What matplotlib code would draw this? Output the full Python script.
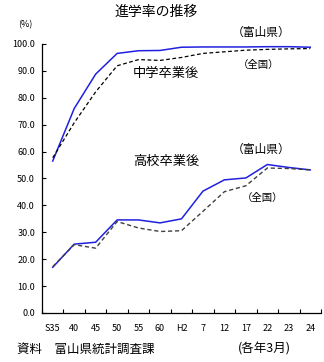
import matplotlib
matplotlib.use("Agg")
import matplotlib.pyplot as plt
import numpy as np

plt.rcParams['font.family'] = ['Noto Sans CJK JP', 'DejaVu Sans']

years = ['S35', '40', '45', '50', '55', '60', 'H2', '7', '12', '17', '22', '23', '24']
# junior high -> next school
jh_toyama = [56.5, 76.0, 88.8, 96.5, 97.5, 97.6, 98.8, 98.9, 98.9, 98.9, 99.0, 99.0, 98.8]
jh_japan = [57.7, 70.7, 82.2, 91.9, 94.2, 93.9, 95.0, 96.5, 97.1, 97.7, 98.0, 98.2, 98.3]
# high school -> university etc
hs_toyama = [17.0, 25.6, 26.3, 34.6, 34.6, 33.5, 35.0, 45.3, 49.5, 50.2, 55.2, 54.1, 53.2]
hs_japan = [17.2, 25.4, 24.1, 34.0, 31.6, 30.3, 30.6, 37.8, 45.1, 47.3, 53.9, 53.7, 53.2]

fig = plt.figure(figsize=(3.24, 3.62), dpi=100)
ax = fig.add_axes([42/324, 1-313/362, 279/324, 269/362])

x = np.arange(len(years))
ax.plot(x, jh_toyama, color='#2020e0', lw=1.1)
ax.plot(x, jh_japan, color='black', lw=0.9, ls=(0, (3, 2)))
ax.plot(x, hs_toyama, color='#2020e0', lw=1.1)
ax.plot(x, hs_japan, color='#404040', lw=1.0, ls=(0, (3, 2)))

ax.set_xlim(-0.5, len(years) - 0.5)
ax.set_ylim(0, 100)
ax.set_yticks(np.arange(0, 101, 10))
ax.set_yticklabels(['%.1f' % v for v in np.arange(0, 101, 10)], fontsize=6.5)
ax.set_xticks(x)
ax.set_xticklabels(years, fontsize=6.5)
ax.set_xticks(np.arange(-0.5, len(years)), minor=True)
ax.tick_params(axis='x', which='major', length=0, pad=8)
ax.tick_params(axis='x', which='minor', direction='in', length=3, width=0.8)
ax.tick_params(axis='y', direction='in', length=3, width=0.8, pad=5)
for s in ['top', 'right']:
    ax.spines[s].set_visible(False)
for s in ['left', 'bottom']:
    ax.spines[s].set_linewidth(0.9)

fig.text(156/324, 1-12/362, '進学率の推移', fontsize=10, ha='center', va='center')
fig.text(25/324, 1-25/362, '(%)', fontsize=6.5, ha='center', va='center')
fig.text(261/324, 1-32/362, '（富山県）', fontsize=8.5, ha='center', va='center')
fig.text(259/324, 1-65/362, '（全国）', fontsize=7.5, ha='center', va='center')
fig.text(166/324, 1-73/362, '中学卒業後', fontsize=9.5, ha='center', va='center')
fig.text(166/324, 1-161/362, '高校卒業後', fontsize=9.5, ha='center', va='center')
fig.text(261/324, 1-149/362, '（富山県）', fontsize=8.5, ha='center', va='center')
fig.text(263/324, 1-198/362, '（全国）', fontsize=7.5, ha='center', va='center')
fig.text(17/324, 1-349/362, '資料　富山県統計調査課', fontsize=9, ha='left', va='center')
fig.text(264/324, 1-349/362, '(各年3月)', fontsize=9, ha='center', va='center')

fig.savefig('out.png', dpi=100)
